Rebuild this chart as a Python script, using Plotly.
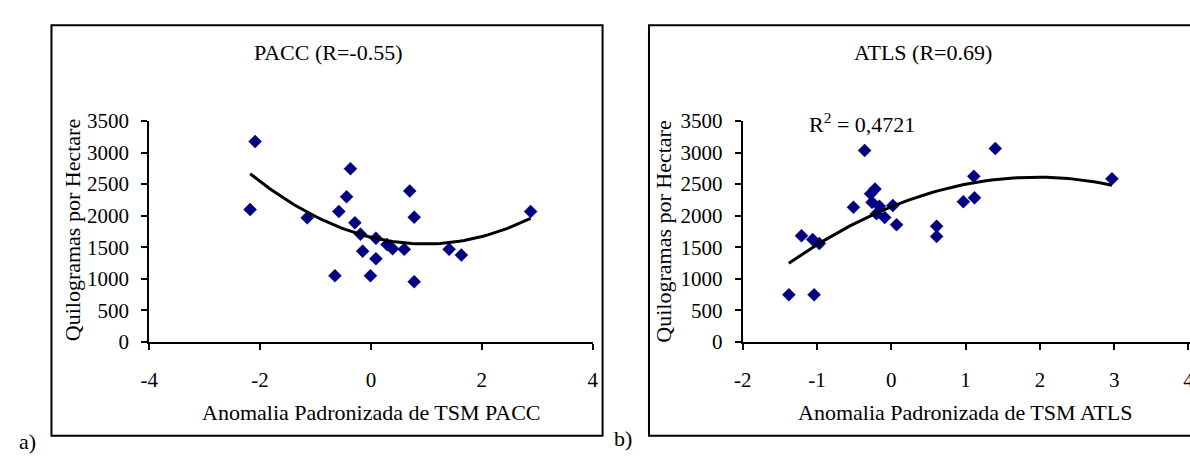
import numpy as np
import plotly.graph_objects as go

W, H = 1190, 460          # visible window
FIG_W = 1212              # figure is a bit wider; the right edge is cut off like the original

# ---- data ----
pacc_x = [-2.09, -2.18, -1.15, -0.65, -0.58, -0.44, -0.37, -0.29, -0.19, -0.15, -0.01,
          0.09, 0.09, 0.29, 0.39, 0.60, 0.70, 0.78, 0.78, 1.41, 1.63, 2.88]
pacc_y = [3175, 2096, 1966, 1048, 2066, 2300, 2744, 1886, 1707, 1437, 1048,
          1642, 1317, 1542, 1477, 1467, 2391, 1976, 953, 1467, 1375, 2065]

atls_x = [-1.38, -1.04, -1.21, -1.06, -0.97, -0.51, -0.36, -0.28, -0.22, -0.26, -0.20,
          -0.16, -0.09, 0.02, 0.07, 0.61, 0.61, 0.97, 1.12, 1.11, 1.40, 2.97]
atls_y = [746, 746, 1682, 1622, 1557, 2132, 3033, 2347, 2422, 2212, 2032,
          2147, 1972, 2162, 1857, 1832, 1671, 2222, 2282, 2623, 3063, 2583]

y_ticks = [0, 500, 1000, 1500, 2000, 2500, 3000, 3500]
y_ticktext = ["0", "500", "1000", "1500", "2000", "2500", "3000", "3500"]
pacc_xticks = [-4, -2, 0, 2, 4]
pacc_xticktext = ["-4", "-2", "0", "2", "4"]
atls_xticks = [-2, -1, 0, 1, 2, 3, 4]
atls_xticktext = ["-2", "-1", "0", "1", "2", "3", "4"]

FONT = "Liberation Serif, Times New Roman, serif"
NAVY = "#000080"


def px(x):
    return x / FIG_W


def py(y):
    return 1 - y / H


def trend(xs, ys):
    c = np.polyfit(xs, ys, 2)
    xx = np.linspace(min(xs), max(xs), 60)
    return xx, np.polyval(c, xx)


fig = go.Figure()

fig.add_trace(go.Scatter(x=pacc_x, y=pacc_y, mode="markers", xaxis="x", yaxis="y",
                         marker=dict(symbol="diamond", size=10, color=NAVY,
                                     line=dict(color=NAVY, width=0.5)),
                         showlegend=False, hoverinfo="skip"))
tx, ty = trend(pacc_x, pacc_y)
fig.add_trace(go.Scatter(x=tx, y=ty, mode="lines", xaxis="x", yaxis="y",
                         line=dict(color="black", width=3), showlegend=False, hoverinfo="skip"))

fig.add_trace(go.Scatter(x=atls_x, y=atls_y, mode="markers", xaxis="x2", yaxis="y2",
                         marker=dict(symbol="diamond", size=10, color=NAVY,
                                     line=dict(color=NAVY, width=0.5)),
                         showlegend=False, hoverinfo="skip"))
tx2, ty2 = trend(atls_x, atls_y)
fig.add_trace(go.Scatter(x=tx2, y=ty2, mode="lines", xaxis="x2", yaxis="y2",
                         line=dict(color="black", width=3), showlegend=False, hoverinfo="skip"))

ax_common = dict(showgrid=False, zeroline=False, showline=True, linecolor="black",
                 linewidth=2, ticks="outside", ticklen=6, tickwidth=1.5,
                 tickcolor="black", tickfont=dict(family=FONT, size=21, color="black"))

x2_right = -2 + (FIG_W - 743) / 75.2

fig.update_layout(
    width=FIG_W, height=H, margin=dict(l=0, r=0, t=0, b=0),
    paper_bgcolor="white", plot_bgcolor="white",
    xaxis=dict(domain=[px(142), px(591)], range=[-4, 4], tickvals=pacc_xticks,
               ticktext=pacc_xticktext, anchor="y", ticklabelstandoff=12, **ax_common),
    yaxis=dict(domain=[py(348), py(115)], range=[0, 3500], tickvals=y_ticks,
               ticktext=y_ticktext, anchor="x", ticklabelstandoff=8, **ax_common),
    xaxis2=dict(domain=[px(743), 1.0], range=[-2, x2_right], tickvals=atls_xticks,
                ticktext=atls_xticktext, anchor="y2", ticklabelstandoff=12, **ax_common),
    yaxis2=dict(domain=[py(348), py(115)], range=[0, 3500], tickvals=y_ticks,
                ticktext=y_ticktext, anchor="x2", ticklabelstandoff=8, **ax_common),
)

shapes = [
    dict(type="rect", xref="paper", yref="paper", x0=px(43), x1=px(601), y0=py(447), y1=py(14),
         line=dict(color="black", width=2), fillcolor="rgba(0,0,0,0)", layer="below"),
    dict(type="rect", xref="paper", yref="paper", x0=px(648), x1=px(1205), y0=py(447), y1=py(14),
         line=dict(color="black", width=2), fillcolor="rgba(0,0,0,0)", layer="below"),
]
fig.update_layout(shapes=shapes)


def ann(text, x, y, size=22, angle=0, xanchor="center"):
    return dict(text=text, x=px(x), y=py(y), xref="paper", yref="paper", showarrow=False,
                xanchor=xanchor, yanchor="middle", textangle=angle,
                font=dict(family=FONT, size=size, color="black"))


annotations = [
    ann("PACC (R=-0.55)", 323, 43),
    ann("ATLS (R=0.69)", 925, 43),
    ann("Anomalia Padronizada de TSM PACC", 367, 423),
    ann("Anomalia Padronizada de TSM ATLS", 968, 423),
    ann("Quilogramas por Hectare", 64, 230, angle=-90),
    ann("Quilogramas por Hectare", 663, 232, angle=-90),
    ann("R<sup>2</sup> = 0,4721", 864, 117),
    ann("a)", 8, 453, xanchor="left"),
    ann("b)", 611, 450, xanchor="left"),
]
fig.update_layout(annotations=annotations)

fig.write_html(
    "out.html",
    config={"displayModeBar": False, "responsive": False},
    post_script=("document.body.style.margin='0';"
                 "document.body.style.overflow='hidden';"
                 "document.documentElement.style.overflow='hidden';"),
)
